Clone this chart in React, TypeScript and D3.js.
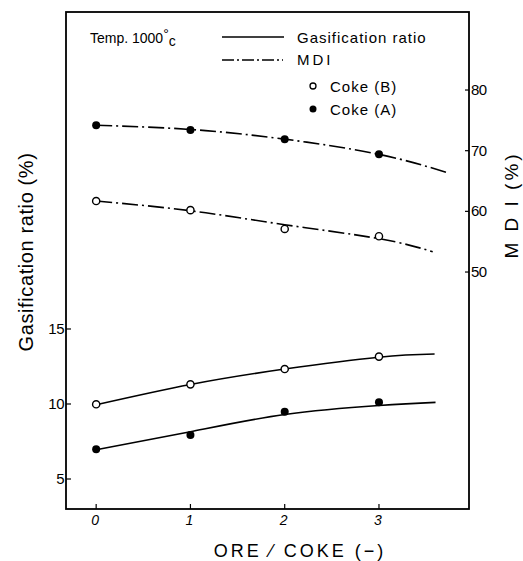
import React from 'react';
import * as d3 from 'd3';

// ---- data ----
const oreCoke = [0, 1, 2, 3];
const gasA = [6.98, 7.93, 9.49, 10.11];
const gasB = [9.98, 11.31, 12.33, 13.16];
const mdiA = [74.2, 73.4, 71.9, 69.4];
const mdiB = [61.7, 60.2, 57.1, 55.9];

// fitted (hand-drawn) curves
const gasAFitX = [0, 1, 2, 3, 3.6];
const gasAFit = [6.95, 8.15, 9.3, 9.9, 10.11];
const gasBFitX = [0, 1, 2, 3, 3.59];
const gasBFit = [9.95, 11.3, 12.33, 13.12, 13.33];
const mdiAFitX = [0, 1, 2, 3, 3.72];
const mdiAFit = [74.2, 73.5, 71.9, 69.4, 66.4];
const mdiBFitX = [0, 1, 2, 3, 3.57];
const mdiBFit = [61.7, 60.1, 57.8, 55.5, 53.35];

const xTicks = [0, 1, 2, 3];
const gasTicks = [5, 10, 15];
const mdiTicks = [50, 60, 70, 80];

const W = 523;
const H = 561;
const L = 66, R = 469, T = 12, B = 509;
const FONT = '"Liberation Sans", Arial, sans-serif';
const DASH = '16,4,2,4';

export default function App() {
  const x = d3.scaleLinear().domain([-0.32, 3.955]).range([L, R]);
  const yG = d3.scaleLinear().domain([3, 36.13]).range([B, T]);
  const yM = d3.scaleLinear().domain([10.94, 92.86]).range([B, T]);

  const mk = (xs: number[], ys: number[], y: d3.ScaleLinear<number, number>) =>
    d3.line<number>().x((_, i) => x(xs[i])).y((d) => y(d)).curve(d3.curveNatural)(ys) || '';

  const sw = 1.6;

  return (
    <svg width={W} height={H} style={{ position: 'absolute', left: 0, top: 0, background: '#fff' }} fontFamily={FONT}>
      <rect x={0} y={0} width={W} height={H} fill="#fff" />
      {/* frame */}
      <rect x={L} y={T} width={R - L} height={B - T} fill="none" stroke="#000" strokeWidth={1.8} />

      {/* x ticks */}
      {xTicks.map((t) => (
        <g key={'xt' + t}>
          <line x1={x(t)} x2={x(t)} y1={B} y2={B - 5} stroke="#000" strokeWidth={1.2} />
          <text x={x(t) - 1} y={525} fontSize={14} fontStyle="italic" textAnchor="middle">{t}</text>
        </g>
      ))}
      {/* left ticks */}
      {gasTicks.map((t) => (
        <g key={'gt' + t}>
          <line x1={L} x2={L + 5} y1={yG(t)} y2={yG(t)} stroke="#000" strokeWidth={1.2} />
          <text x={L - 2} y={yG(t) + 5} fontSize={15} textAnchor="end" letterSpacing={-0.5}>{t}</text>
        </g>
      ))}
      {/* right ticks */}
      {mdiTicks.map((t) => (
        <g key={'mt' + t}>
          <line x1={R - 4} x2={R} y1={yM(t)} y2={yM(t)} stroke="#000" strokeWidth={1.2} />
          <text x={R + 2} y={yM(t) + 5} fontSize={15} textAnchor="start" letterSpacing={-0.5}>{t}</text>
        </g>
      ))}

      {/* axis titles */}
      <text transform="translate(33,252) rotate(-90)" fontSize={20} textAnchor="middle" letterSpacing={0.6}>
        Gasification ratio (%)
      </text>
      <text transform="translate(518,205) rotate(-90)" fontSize={19} textAnchor="middle" letterSpacing={3}>
        M D I  (%)
      </text>
      <text x={300} y={557} fontSize={18} textAnchor="middle" letterSpacing={3}>
        ORE ⁄ COKE  (−)
      </text>

      {/* fitted curves */}
      <path d={mk(gasAFitX, gasAFit, yG)} fill="none" stroke="#000" strokeWidth={sw} />
      <path d={mk(gasBFitX, gasBFit, yG)} fill="none" stroke="#000" strokeWidth={sw} />
      <path d={mk(mdiAFitX, mdiAFit, yM)} fill="none" stroke="#000" strokeWidth={sw} strokeDasharray={DASH} />
      <path d={mk(mdiBFitX, mdiBFit, yM)} fill="none" stroke="#000" strokeWidth={sw} strokeDasharray={DASH} />

      {/* points */}
      {oreCoke.map((v, i) => (
        <g key={'p' + i}>
          <circle cx={x(v)} cy={yG(gasA[i])} r={4} fill="#000" />
          <circle cx={x(v)} cy={yG(gasB[i])} r={3.6} fill="#fff" stroke="#000" strokeWidth={1.4} />
          <circle cx={x(v)} cy={yM(mdiA[i])} r={4} fill="#000" />
          <circle cx={x(v)} cy={yM(mdiB[i])} r={3.6} fill="#fff" stroke="#000" strokeWidth={1.4} />
        </g>
      ))}

      {/* legend */}
      <text x={90} y={43} fontSize={14}>
        Temp. 1000<tspan dy={-4}>°</tspan><tspan dy={7}>c</tspan>
      </text>
      <line x1={222} x2={284} y1={37} y2={37} stroke="#000" strokeWidth={sw} />
      <text x={297} y={43} fontSize={15} letterSpacing={1}>Gasification ratio</text>
      <line x1={222} x2={283} y1={60} y2={60} stroke="#000" strokeWidth={sw} strokeDasharray="12,3,2,3" />
      <text x={297} y={65} fontSize={15} letterSpacing={3}>MDI</text>
      <circle cx={313} cy={86} r={3} fill="#fff" stroke="#000" strokeWidth={1.3} />
      <text x={330} y={92} fontSize={15} letterSpacing={1}>Coke (B)</text>
      <circle cx={313} cy={109} r={3.5} fill="#000" />
      <text x={330} y={115} fontSize={15} letterSpacing={1}>Coke (A)</text>
    </svg>
  );
}
